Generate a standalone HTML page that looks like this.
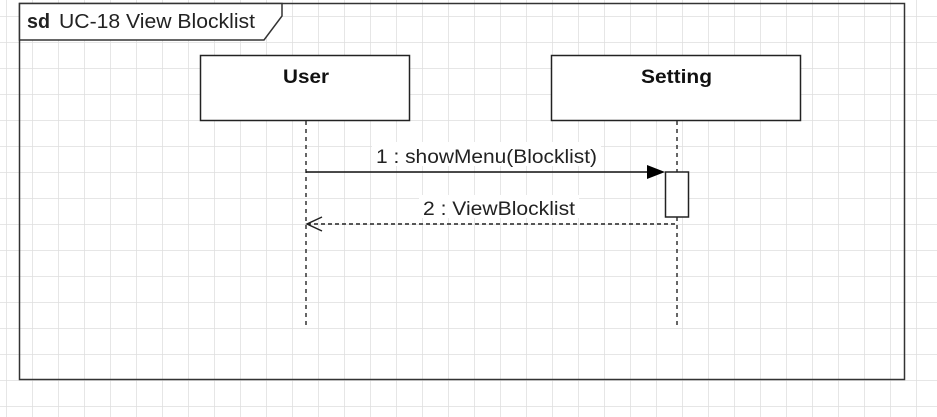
<!DOCTYPE html>
<html><head><meta charset="utf-8"><style>
html,body{margin:0;padding:0;background:#fff}
svg{display:block}
text{font-family:"Liberation Sans",Arial,sans-serif}
</style></head><body>
<svg width="937" height="417" viewBox="0 0 937 417" xmlns="http://www.w3.org/2000/svg">
<defs>
<pattern id="g" x="6" y="16" width="26" height="26" patternUnits="userSpaceOnUse">
<path d="M0 0H26M0 0V26" stroke="#dedede" stroke-width="1.5" fill="none"/>
</pattern>
</defs>
<rect width="937" height="417" fill="url(#g)"/>
<rect x="19.5" y="3.5" width="885" height="376" fill="none" stroke="#333" stroke-width="1.5"/>
<path d="M19.5 3.5H282V16L264 40H19.5Z" fill="#fff" stroke="#333" stroke-width="1.5"/>
<text x="27" y="28" font-size="20" font-weight="bold" fill="#222" textLength="23" lengthAdjust="spacingAndGlyphs">sd</text>
<text x="59" y="28" font-size="20" fill="#222" textLength="196" lengthAdjust="spacingAndGlyphs">UC-18 View Blocklist</text>
<rect x="200.5" y="55.5" width="209" height="65" fill="#fff" stroke="#222" stroke-width="1.5"/>
<text x="283" y="83" font-size="19" font-weight="bold" fill="#111" textLength="46" lengthAdjust="spacingAndGlyphs">User</text>
<rect x="551.5" y="55.5" width="249" height="65" fill="#fff" stroke="#222" stroke-width="1.5"/>
<text x="641" y="83" font-size="19" font-weight="bold" fill="#111" textLength="71" lengthAdjust="spacingAndGlyphs">Setting</text>
<line x1="306" y1="121" x2="306" y2="328" stroke="#333" stroke-width="1.5" stroke-dasharray="4,4"/>
<line x1="677" y1="121" x2="677" y2="328" stroke="#333" stroke-width="1.5" stroke-dasharray="4,4"/>
<rect x="665.5" y="172" width="23" height="45" fill="#fff" stroke="#222" stroke-width="1.5"/>
<line x1="306" y1="172" x2="650" y2="172" stroke="#111" stroke-width="1.5"/>
<path d="M647 165L665 172L647 179Z" fill="#000"/>
<rect x="372" y="142" width="229" height="24" fill="#fff"/>
<text x="376" y="163" font-size="19" fill="#222" textLength="221" lengthAdjust="spacingAndGlyphs">1 : showMenu(Blocklist)</text>
<line x1="307" y1="224" x2="677" y2="224" stroke="#222" stroke-width="1.5" stroke-dasharray="4,3"/>
<path d="M322 217L307 224L322 231" fill="none" stroke="#222" stroke-width="1.5"/>
<rect x="419" y="195" width="160" height="23" fill="#fff"/>
<text x="423" y="215" font-size="19" fill="#222" textLength="152" lengthAdjust="spacingAndGlyphs">2 : ViewBlocklist</text>
</svg>
</body></html>
